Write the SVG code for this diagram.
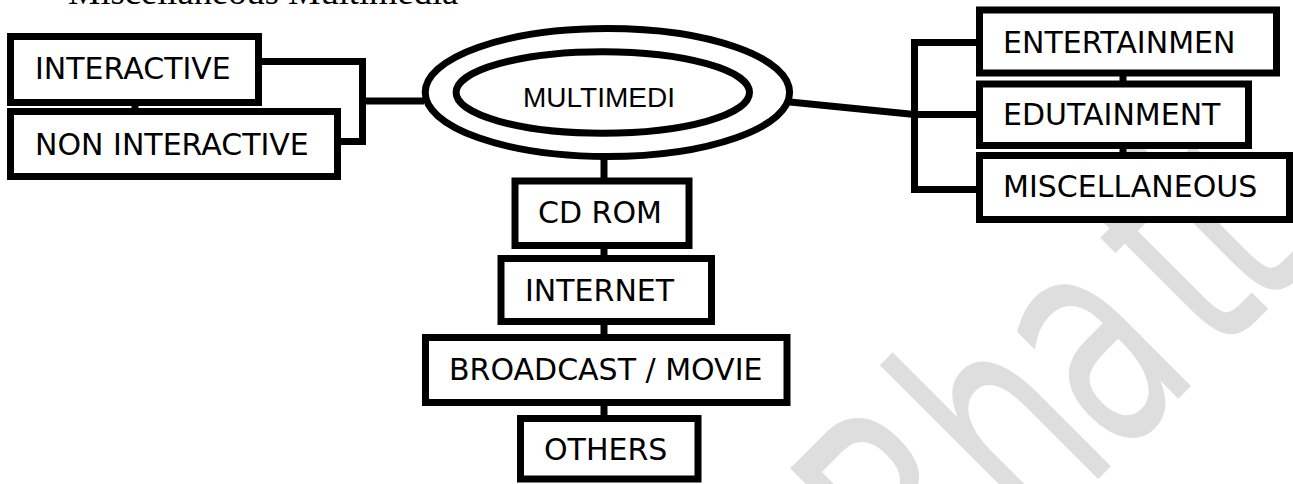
<svg xmlns="http://www.w3.org/2000/svg" width="1293" height="484" viewBox="0 0 1293 484">
<style>
.box{fill:#fff;stroke:#000;stroke-width:7}
.lbl{font-family:"DejaVu Sans",Verdana,sans-serif;font-size:30px;fill:#000}
.conn{fill:none;stroke:#000;stroke-width:7}
.ell{fill:#fff;stroke:#000;stroke-width:7}
</style>
<rect x="0" y="0" width="1293" height="484" fill="#fff"/>
<g id="watermark" transform="translate(1107,470) rotate(-45)">
<text transform="scale(0.65,1)" x="-373.2 -161.2 21.5 236.9 333.8" y="0" font-family="DejaVu Sans,sans-serif" font-size="309" fill="#dedede">Bhatt</text>
</g>
<text id="title" x="68" y="4" font-family="Liberation Serif,serif" font-size="36.5" fill="#000">Miscellaneous Multimedia</text>
<g id="connectors">
<path class="conn" d="M262,61.5 H362.5 V141.5 H341"/>
<path class="conn" d="M362.5,101 H424"/>
<path class="conn" d="M135,105 V110"/>
<path class="conn" d="M790,102 L914.5,114.5"/>
<path class="conn" d="M976,42.5 H914.5 V189.5 H976 M914.5,114.5 H976"/>
<path class="conn" d="M1123,75 V83 M1123,147 V155"/>
<path class="conn" d="M604,158 V179 M604,247 V257 M604,323 V336 M604,404 V417"/>
</g>
<g id="multimedia">
<ellipse class="ell" cx="607.4" cy="92.5" rx="182.2" ry="64"/>
<ellipse class="ell" cx="602.8" cy="92.5" rx="146.7" ry="40.7"/>
<text x="523" y="106.5" font-family="Liberation Sans,Arial,sans-serif" font-size="28" fill="#000">MULTIMEDI</text>
</g>
<g id="interactive"><rect class="box" x="10.5" y="36.5" width="248" height="66"/><text class="lbl" x="35" y="79">INTERACTIVE</text></g>
<g id="non-interactive"><rect class="box" x="10.5" y="111.5" width="327" height="65"/><text class="lbl" x="35" y="155">NON INTERACTIVE</text></g>
<g id="entertainment"><rect class="box" x="979.5" y="10" width="297" height="63"/><text class="lbl" x="1003" y="52.5">ENTERTAINMEN</text></g>
<g id="edutainment"><rect class="box" x="979.5" y="84" width="269" height="61.5"/><text class="lbl" x="1003" y="125">EDUTAINMENT</text></g>
<g id="miscellaneous"><rect class="box" x="979.5" y="155.5" width="310" height="64"/><text class="lbl" x="1003" y="197">MISCELLANEOUS</text></g>
<g id="cdrom"><rect class="box" x="515" y="181" width="174" height="64.5"/><text class="lbl" x="538" y="223">CD ROM</text></g>
<g id="internet"><rect class="box" x="501" y="258.5" width="210.5" height="63"/><text class="lbl" x="525" y="300.5">INTERNET</text></g>
<g id="broadcast"><rect class="box" x="425.5" y="337.5" width="361.5" height="65"/><text class="lbl" x="449" y="380">BROADCAST / MOVIE</text></g>
<g id="others"><rect class="box" x="520.5" y="418.5" width="177.5" height="60.5"/><text class="lbl" x="544" y="460">OTHERS</text></g>
</svg>
